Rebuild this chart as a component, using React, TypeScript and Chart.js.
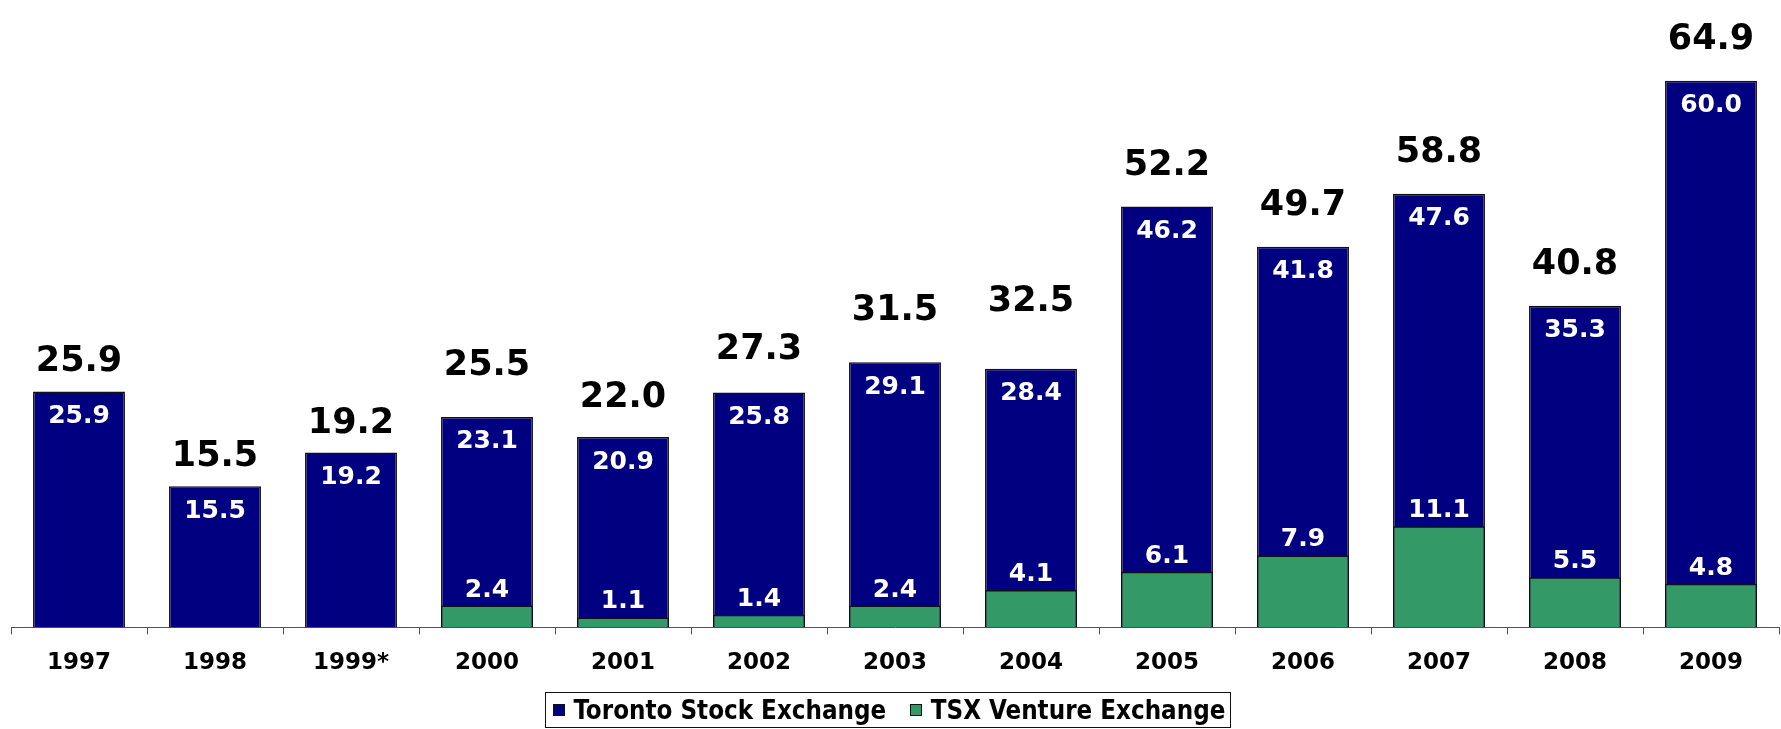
import React, { useEffect, useRef } from "react";
import { Chart, registerables } from "chart.js";

Chart.register(...registerables);

const categories = ["1997", "1998", "1999*", "2000", "2001", "2002", "2003", "2004", "2005", "2006", "2007", "2008", "2009"];
const torontoValues = [25.9, 15.5, 19.2, 23.1, 20.9, 25.8, 29.1, 28.4, 46.2, 41.8, 47.6, 35.3, 60.0];
const ventureValues: (number | null)[] = [null, null, null, 2.4, 1.1, 1.4, 2.4, 4.1, 6.1, 7.9, 11.1, 5.5, 4.8];
const totalValues = [25.9, 15.5, 19.2, 25.5, 22.0, 27.3, 31.5, 32.5, 52.2, 49.7, 58.8, 40.8, 64.9];
const seriesNames = ["Toronto Stock Exchange", "TSX Venture Exchange"];
const seriesColors = ["#000080", "#339966"];

// totals above this level are placed just above their bar instead of at the total's height
const TOTAL_LABEL_SWITCH = 40;

const FONT = '"DejaVu Sans", Verdana, sans-serif';

const labelPlugin = {
  id: "barLabels",
  afterDatasetsDraw(chart: any) {
    const ctx = chart.ctx;
    const yScale = chart.scales.y;
    const tsxMeta = chart.getDatasetMeta(0);
    const ventMeta = chart.getDatasetMeta(1);
    ctx.save();
    ctx.textAlign = "center";
    ctx.textBaseline = "alphabetic";
    tsxMeta.data.forEach((bar: any, i: number) => {
      const total = totalValues[i];
      const baseline = total > TOTAL_LABEL_SWITCH ? bar.y - 32 : yScale.getPixelForValue(total) - 20;
      ctx.font = `bold 35px ${FONT}`;
      ctx.fillStyle = "#000";
      ctx.fillText(total.toFixed(1), bar.x, baseline);
      ctx.font = `bold 25px ${FONT}`;
      ctx.fillStyle = "#fff";
      ctx.fillText(torontoValues[i].toFixed(1), bar.x, bar.y + 31.5);
    });
    ventMeta.data.forEach((bar: any, i: number) => {
      const v = ventureValues[i];
      if (v == null) return;
      ctx.font = `bold 25px ${FONT}`;
      ctx.fillStyle = "#fff";
      ctx.fillText(v.toFixed(1), bar.x, bar.y - 9);
    });
    ctx.restore();
  },
};

export default function App() {
  const canvasRef = useRef<HTMLCanvasElement>(null);

  useEffect(() => {
    document.body.style.margin = "0";
    const canvas = canvasRef.current;
    if (!canvas) return;
    const chart = new Chart(canvas, {
      type: "bar",
      data: {
        labels: categories,
        datasets: [
          {
            label: seriesNames[0],
            data: torontoValues,
            backgroundColor: seriesColors[0],
            borderColor: "#111",
            borderWidth: 1.5,
            grouped: false,
            order: 1,
            barPercentage: 0.676,
            categoryPercentage: 1,
          } as any,
          {
            label: seriesNames[1],
            data: ventureValues,
            backgroundColor: seriesColors[1],
            borderColor: "#111",
            borderWidth: 1.5,
            grouped: false,
            order: 0,
            barPercentage: 0.676,
            categoryPercentage: 1,
          } as any,
        ],
      },
      options: {
        responsive: false,
        animation: false,
        devicePixelRatio: 1,
        layout: { padding: { left: 11, right: 2, top: 8, bottom: 37 } },
        plugins: {
          legend: { display: false },
          tooltip: { enabled: false },
        },
        scales: {
          x: {
            grid: {
              display: true,
              drawOnChartArea: false,
              drawTicks: true,
              tickLength: 7,
              color: "#555",
              lineWidth: 1,
              offset: true,
            },
            border: { display: true, color: "#555", width: 1 },
            ticks: {
              color: "#000",
              padding: 15,
              font: { family: FONT, size: 23, weight: "bold" },
              maxRotation: 0,
              autoSkip: false,
            },
          },
          y: {
            display: false,
            min: 0,
            max: 68,
          },
        },
      },
      plugins: [labelPlugin],
    });
    return () => chart.destroy();
  }, []);

  const legendItem = (name: string, color: string) => (
    <div style={{ display: "flex", alignItems: "center" }}>
      <span
        style={{
          width: 10,
          height: 10,
          background: color,
          border: "1px solid #111",
          display: "inline-block",
          marginRight: 8.5,
        }}
      />
      <span>{name}</span>
    </div>
  );

  return (
    <div style={{ position: "fixed", left: 0, top: 0, width: 1781, height: 729, background: "#fff" }}>
      <canvas ref={canvasRef} width={1781} height={729} style={{ display: "block" }} />
      <div
        style={{
          position: "absolute",
          left: 545,
          top: 692,
          width: 686,
          height: 36,
          boxSizing: "border-box",
          border: "1px solid #111",
          display: "flex",
          alignItems: "center",
          justifyContent: "flex-start",
          paddingLeft: 7,
          gap: 24,
          fontFamily: '"DejaVu Sans Condensed", "DejaVu Sans", sans-serif',
          fontWeight: "bold",
          fontSize: 25.7,
          color: "#000",
          whiteSpace: "nowrap",
        }}
      >
        {legendItem(seriesNames[0], seriesColors[0])}
        {legendItem(seriesNames[1], seriesColors[1])}
      </div>
    </div>
  );
}
